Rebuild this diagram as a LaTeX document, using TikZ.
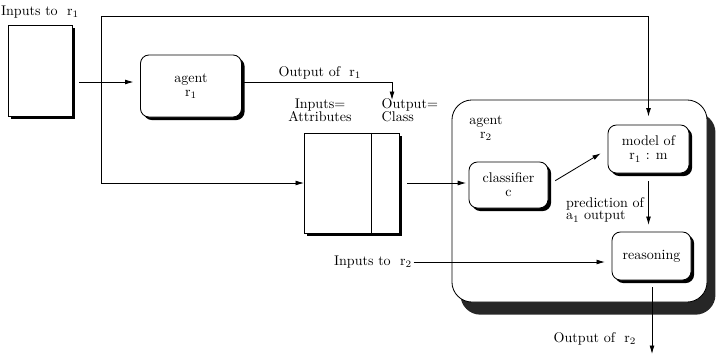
\documentclass[tikz,border=0pt]{standalone}
\usepackage{amsmath}
\usepackage{tikz}
\usetikzlibrary{arrows.meta,shadows}

\tikzset{
    >={Latex[length=6pt,width=3.5pt]},
    plainbox/.style={draw,fill=white,inner sep=0pt,outer sep=0pt,line width=0.6pt,
        drop shadow={shadow xshift=2.2pt,shadow yshift=-2.2pt,fill=black,opacity=1}},
    roundbox/.style={plainbox,rounded corners=6pt,align=center},
    wire/.style={line width=0.6pt},
    lbl/.style={inner sep=1pt,align=center}
}

\begin{document}
\begin{tikzpicture}[x=0.025cm,y=-0.025cm]
                \useasboundingbox (0,0) rectangle (716,355);
                \node [draw,fill=white,line width=0.6pt,rounded corners=0.5cm,inner sep=0pt,
                    minimum width=6.375cm,minimum height=5.05cm,
                    drop shadow={shadow xshift=6pt,shadow yshift=-9pt,fill=black!85,opacity=1}]
                    (agent2) at (579.5,201) {};
                \node [lbl] (agent2lbl) at (486,128) {agent\\[-2pt]r$_2$};
                \node [lbl] (in1lbl) at (40,12) {Inputs to\ \ r$_1$};
                \node [plainbox,minimum width=1.6cm,minimum height=2.275cm] (inbox) at (40,70.5) {};
                \node [roundbox,minimum width=2.525cm,minimum height=1.55cm] (agent1) at (191,86) {agent\\[-2pt]r$_1$};
                \node [plainbox,minimum width=2.375cm,minimum height=2.5cm] (table) at (351.5,183) {};
                \draw [wire] ([xshift=0.51cm]table.north) -- ([xshift=0.51cm]table.south);
                \node [lbl] (attrlbl) at (320,110) {Inputs=\\[-3pt]Attributes};
                \node [lbl,align=left,anchor=west] (classlbl) at (380,110) {Output=\\[-3pt]Class};
                \node [roundbox,minimum width=1.975cm,minimum height=1.15cm] (classifier) at (508.5,185) {classifier\\[-2pt]c};
                \node [roundbox,minimum width=2.025cm,minimum height=1.2cm] (model) at (648.5,149) {model of\\[-2pt]r$_1$ : m};
                \node [roundbox,minimum width=1.975cm,minimum height=1.2cm] (reasoning) at (651.5,256) {reasoning};
                \node [lbl,align=left] (predlbl) at (605,210) {prediction of\\[-3pt]a$_1$ output};
                \node [lbl] (in2lbl) at (373,262) {Inputs to\ \ r$_2$};
                \node [lbl] (out1lbl) at (320,73) {Output of\ \ r$_1$};
                \node [lbl] (out2lbl) at (595,339) {Output of\ \ r$_2$};
                \coordinate (split) at (101,82);
                \coordinate (topleft) at (101,16);
                \coordinate (out1end) at (392,100);
                \coordinate (out2end) at (652,354);
                \draw [wire,->,shorten <=5pt,shorten >=5pt] (inbox.east |- split) -- (split -| agent1.west);
                \draw [wire,->] (split) |- (table.west);
                \draw [wire,->,shorten >=6pt] (split) -- (topleft) -| (model.north);
                \draw [wire,->] (split -| agent1.east) -| (out1end);
                \draw [wire,->,shorten <=6pt,shorten >=2pt] (table.east) -- (table.east -| classifier.west);
                \draw [wire,->,shorten <=6pt,shorten >=6pt] (classifier.east) -- (model.west);
                \draw [wire,->,shorten <=6pt,shorten >=5pt] (model.south) -- (model.south |- reasoning.north);
                \draw [wire,->,shorten >=5pt] (in2lbl.east) -- (in2lbl.east -| reasoning.west);
                \draw [wire,->,shorten <=5pt] (reasoning.south -| out2end) -- (out2end);
            \end{tikzpicture}
\end{document}
